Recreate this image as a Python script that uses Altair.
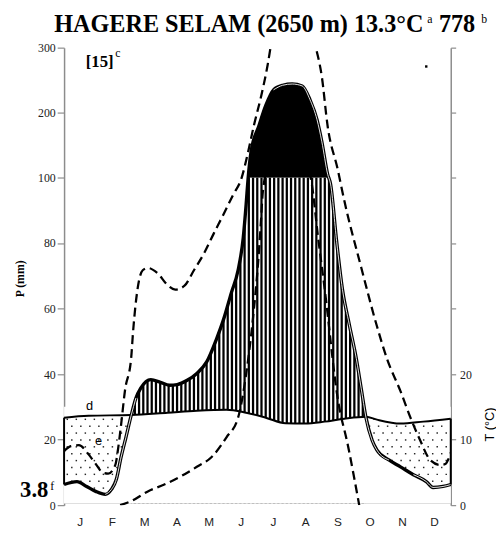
import altair as alt
import numpy as np
import pandas as pd

# ---------------- data ----------------
# x position in months (0 = start of January, 12 = end of December)
# precipitation in mm (upper part of the axis is compressed above 100 mm)
P_X = [0.00, 0.40, 0.70, 0.98, 1.28, 1.47, 1.62, 1.77, 1.92, 2.08,
       2.23, 2.38, 2.69, 2.99, 3.27, 3.51, 3.82, 4.12, 4.43, 4.73,
       4.95, 5.19, 5.40, 5.56, 5.65, 5.71, 5.80, 6.05, 6.26, 6.50,
       6.78, 7.08, 7.39, 7.63, 7.85, 8.00, 8.18, 8.27, 8.46, 8.64,
       8.85, 9.07, 9.22, 9.37, 9.56, 9.71, 10.08, 10.44, 10.84, 11.24,
       11.45, 11.76, 12.00]
P_MM = [6.3, 7.2, 5.7, 4.2, 3.3, 4.8, 7.8, 14.7, 20.7, 27.3,
        32.7, 35.7, 38.3, 37.5, 36.6, 36.8, 38.1, 40.2, 43.8, 50.7,
        56.7, 64.8, 71.7, 81.6, 91.8, 99.6, 139, 180, 211, 235,
        242, 244, 241, 220, 189, 155, 105, 98, 80.4, 65.8,
        55.2, 44.7, 35.7, 26.7, 19.8, 16.8, 13.8, 11.7, 9.3, 7.2,
        5.4, 5.7, 6.3]

# temperature in degrees C (drawn at 1 degree = 2 mm)
T_X = [0.00, 0.76, 2.08, 3.21, 4.12, 5.04, 5.65, 6.26, 6.87, 7.48,
       8.09, 8.70, 9.37, 9.71, 10.44, 11.15, 12.00]
T_C = [13.35, 13.65, 13.75, 14.1, 14.4, 14.55, 14.1, 13.35, 12.5, 12.45,
       12.75, 13.2, 13.5, 13.05, 12.45, 12.75, 13.2]

# upper dashed curve (mm)
HI_X = [0.00, 0.21, 0.46, 0.76, 0.98, 1.19, 1.37, 1.59, 1.68, 1.77,
        1.89, 2.08, 2.14, 2.29, 2.44, 2.60, 2.90, 3.21, 3.45, 3.73,
        4.03, 4.34, 4.64, 4.95, 5.25, 5.50, 5.71, 5.89, 6.11, 6.32,
        6.44, 7.05, 7.79, 8.00, 8.18, 8.49, 8.70, 9.22, 9.71, 10.02,
        10.44, 10.75, 11.05, 11.36, 11.66, 11.82, 12.00]
HI_MM = [16.5, 18.0, 18.3, 15.5, 12.6, 10.0, 9.6, 12.3, 17.5, 24.6,
         35, 44.7, 52.8, 66.6, 71.7, 72.4, 70.8, 67.2, 65.8, 66.9,
         71.7, 76.8, 82.8, 88.8, 94.8, 99.6, 139, 180, 224, 274,
         310, 420, 305, 255, 179, 113, 92.8, 72.6, 54.6, 44.7,
         34.8, 26.7, 19.8, 13.8, 12.3, 12.5, 16]

# lower dashed curve (mm)
LO_X = [1.74, 2.08, 2.60, 3.11, 3.66, 4.12, 4.58, 5.04, 5.40, 5.65,
        5.89, 6.02, 6.11, 6.17, 6.41, 6.93, 7.48, 7.69, 7.88, 8.09,
        8.49, 8.82, 9.16]
LO_MM = [0, 1.2, 4.2, 6.3, 9.0, 11.7, 14.7, 20.7, 26.7, 40,
         59.7, 73.8, 86.7, 95.8, 130, 160, 130, 97.9, 82, 65.8,
         32.7, 17.7, 0]

STRAY_X = [11.24]
STRAY_MM = [271]

MONTHS = ["J", "F", "M", "A", "M", "J", "J", "A", "S", "O", "N", "D"]
MONTH_MID = [0.5 + i for i in range(12)]
P_TICKS = [0, 20, 40, 60, 80, 100, 200, 300]

TITLE = "HAGERE SELAM (2650 m) 13.3°C"
TITLE_SUP_A = "a"
TOTAL = "778"
TOTAL_SUP = "b"
YEARS = "[15]"
YEARS_SUP = "c"
MIN_T = "3.8"
MIN_T_SUP = "f"

# ---------------- chart ----------------
W, H = 393, 465
Y100 = 132
GRAY = "#8c8c8c"
SERIF = "Liberation Serif"
SANS = "Liberation Sans"

xs = alt.Scale(domain=[0, 12], nice=False, zero=False)
ys = alt.Scale(domain=[0, 100, 300], range=[H, Y100, 0], nice=False, zero=False)


def X(f="m:Q"):
    return alt.X(f, scale=xs, axis=None)


def Y(f):
    return alt.Y(f, scale=ys, axis=None)


p_df = pd.DataFrame({"m": P_X, "p": P_MM})
t_df = pd.DataFrame({"m": T_X, "t": T_C})
hi_df = pd.DataFrame({"m": HI_X, "p": HI_MM})
lo_df = pd.DataFrame({"m": LO_X, "p": LO_MM})
edge_df = pd.DataFrame({"m": list(range(13)), "v": [0] * 13})

# axes carriers
ax_left = alt.Chart(edge_df).mark_point(opacity=0).encode(
    x=alt.X("m:Q", scale=xs, axis=alt.Axis(
        values=list(range(13)), labels=False, title=None, grid=False,
        tickSize=5, tickColor=GRAY, tickWidth=1.2, domainColor=GRAY, domainWidth=1.5)),
    y=alt.Y("v:Q", scale=ys, axis=alt.Axis(
        values=P_TICKS, title=None, grid=False, orient="left",
        tickSize=7, tickColor=GRAY, tickWidth=1.2, domainColor=GRAY, domainWidth=1.5,
        labelFont=SERIF, labelFontSize=12, labelColor="#222", labelPadding=2)),
)
ax_right = alt.Chart(edge_df).mark_point(opacity=0).encode(
    x=X(),
    y=alt.Y("v:Q", scale=ys, axis=alt.Axis(
        values=P_TICKS, title=None, grid=False, orient="right",
        labelExpr="datum.value == 0 ? '0' : datum.value == 20 ? '10' : datum.value == 40 ? '20' : ''",
        tickSize=5, tickColor=GRAY, tickWidth=1.2, domainColor=GRAY, domainWidth=1.5,
        labelFont=SERIF, labelFontSize=12, labelColor="#222", labelPadding=4)),
)

humid = alt.Chart(p_df).transform_calculate(
    pc="min(datum.p, 100)", z="0.5").mark_area(
    color="black", interpolate="monotone").encode(x=X(), y=Y("pc:Q"), y2="z:Q")

t_white = alt.Chart(t_df).transform_calculate(
    tm="2*datum.t", z="0.5").mark_area(
    color="white", interpolate="monotone").encode(x=X(), y=Y("tm:Q"), y2="z:Q")

hatch_df = pd.DataFrame({"m": np.round(np.arange(2.0, 9.45, 0.131), 3)})
hatch = alt.Chart(hatch_df).transform_calculate(lo="0.5", hi="100").mark_rule(
    color="white", strokeWidth=2.0).encode(x=X(), y=Y("lo:Q"), y2="hi:Q")

cap = alt.Chart(p_df).transform_calculate(
    pc="max(datum.p, 100)", b="100").mark_area(
    color="black", interpolate="monotone").encode(x=X(), y=Y("pc:Q"), y2="b:Q")

# dotted texture for the dry season
dx, dy = [], []
for i, r in enumerate(np.arange(1.0, 28.6, 2.1)):
    start = 0.10 + (0.14 if i % 2 else 0.0)
    for c in np.arange(start, 11.96, 0.28):
        if c <= 2.05 or c >= 9.42:
            dx.append(round(float(c), 3))
            dy.append(round(float(r), 2))
dots = alt.Chart(pd.DataFrame({"m": dx, "v": dy})).mark_square(
    size=2.2, color="black", opacity=0.85).encode(x=X(), y=Y("v:Q"))

dry = "datum.m <= 2.08 || datum.m >= 9.37"
mask_lo = alt.Chart(p_df).transform_filter(dry).transform_calculate(
    side="datum.m < 6 ? 'L' : 'R'", z="0.5").mark_area(
    color="white", interpolate="monotone").encode(
    x=X(), y=Y("p:Q"), y2="z:Q", detail="side:N")
mask_hi = alt.Chart(t_df).transform_filter(dry).transform_calculate(
    side="datum.m < 6 ? 'L' : 'R'", tm="2*datum.t", top="30").mark_area(
    color="white", interpolate="monotone").encode(
    x=X(), y=Y("tm:Q"), y2="top:Q", detail="side:N")

t_line = alt.Chart(t_df).transform_calculate(tm="2*datum.t").mark_line(
    color="black", strokeWidth=2, interpolate="monotone").encode(x=X(), y=Y("tm:Q"))

p_line = alt.Chart(p_df).mark_line(
    color="black", strokeWidth=3.4, interpolate="monotone").encode(x=X(), y=Y("p:Q"))
p_inner = alt.Chart(p_df).transform_filter(
    "(datum.m >= 1.25 && datum.m <= 2.3) || (datum.m >= 6.5 && datum.m <= 10.1) || datum.m >= 10.8"
).transform_calculate(
    seg="datum.m < 3 ? 'a' : (datum.m < 10.5 ? 'b' : 'c')").mark_line(
    color="white", strokeWidth=0.9, interpolate="monotone").encode(
    x=X(), y=Y("p:Q"), detail="seg:N")

border = alt.Chart(pd.DataFrame({"m": [P_X[0], P_X[-1]], "p": [P_MM[0], P_MM[-1]],
                                 "t": [T_C[0], T_C[-1]]})).transform_calculate(
    tm="2*datum.t").mark_rule(color="black", strokeWidth=2).encode(
    x=X(), y=Y("p:Q"), y2="tm:Q")

hi_line = alt.Chart(hi_df).mark_line(
    color="black", strokeWidth=2.3, strokeDash=[9, 5], interpolate="monotone", clip=True
).encode(x=X(), y=Y("p:Q"))
lo_line = alt.Chart(lo_df).mark_line(
    color="black", strokeWidth=2.3, strokeDash=[9, 5], interpolate="monotone", clip=True
).encode(x=X(), y=Y("p:Q"))

stray = alt.Chart(pd.DataFrame({"m": STRAY_X, "p": STRAY_MM})).mark_square(
    size=6, color="black", opacity=1).encode(x=X(), y=Y("p:Q"))

month_lbl = alt.Chart(pd.DataFrame({"m": MONTH_MID, "lab": MONTHS})).mark_text(
    font=SANS, fontSize=12, color="#222", baseline="middle").encode(
    x=X(), y=alt.value(H + 17), text="lab:N")


def txt(s, x, y, size, font=SERIF, weight="normal", align="left", baseline="alphabetic", angle=0):
    return alt.Chart(pd.DataFrame({"s": [s]})).mark_text(
        font=font, fontSize=size, fontWeight=weight, align=align, baseline=baseline,
        angle=angle, color="black").encode(x=alt.value(x), y=alt.value(y), text="s:N")


texts = [
    txt(TITLE, -10, -16, 24.6, weight="bold"),
    txt(TITLE_SUP_A, 369, -25, 12),
    txt(TOTAL, 381, -16, 24.6, weight="bold"),
    txt(TOTAL_SUP, 424, -25, 12),
    txt(YEARS, 22, 20, 17, weight="bold"),
    txt(YEARS_SUP, 52, 10, 12),
    txt(MIN_T, -16, 457, 23, weight="bold", align="right"),
    txt(MIN_T_SUP, -14, 450, 12),
    txt("d", 26, 368, 13, font=SANS, align="center"),
    txt("e", 35, 404, 13, font=SANS, align="center"),
    txt("P (mm)", -45, 235, 12, weight="bold", align="center", baseline="middle", angle=270),
    txt("T (°C)", 433, 383, 13, font=SANS, align="center", baseline="middle", angle=270),
]

chart = alt.layer(
    ax_left, ax_right, humid, t_white, hatch, cap, dots, mask_lo, mask_hi,
    t_line, p_line, p_inner, border, hi_line, lo_line, stray, month_lbl, *texts
).resolve_axis(y="independent").properties(
    width=W, height=H,
    autosize=alt.AutoSizeParams(type="none"),
    padding={"left": 57, "top": 36, "right": 46, "bottom": 24},
    background="white",
).configure_view(stroke=None)

chart.save("out.html", embed_options={"renderer": "svg", "actions": False})
